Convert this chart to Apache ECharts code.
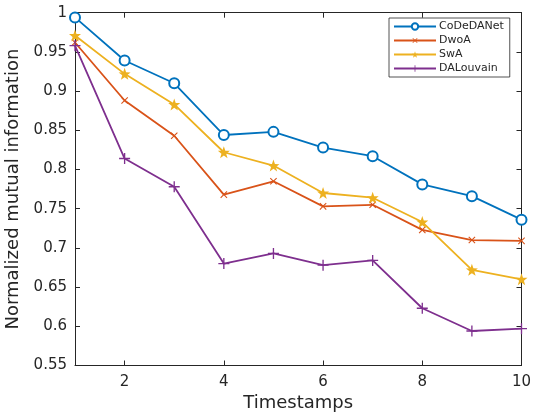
<!DOCTYPE html>
<html>
<head>
<meta charset="utf-8">
<script src="https://cdn.jsdelivr.net/npm/echarts@6/dist/echarts.min.js"></script>
<style>
  html, body { margin: 0; padding: 0; background: #fff; }
  #chart { width: 536px; height: 419px; }
</style>
</head>
<body>
<div id="chart"></div>
<script>
// Timestamps along the x axis
const timestamps = [1, 2, 3, 4, 5, 6, 7, 8, 9, 10];
const xTicks = [2, 4, 6, 8, 10];

// Normalized mutual information per method
const codedanet = [0.994, 0.939, 0.910, 0.844, 0.848, 0.828, 0.817, 0.781, 0.766, 0.736];
const dwoa      = [0.962, 0.888, 0.843, 0.768, 0.785, 0.753, 0.755, 0.723, 0.710, 0.709];
const swa       = [0.971, 0.922, 0.883, 0.822, 0.805, 0.770, 0.764, 0.733, 0.672, 0.660];
const dalouvain = [0.958, 0.814, 0.778, 0.680, 0.693, 0.678, 0.684, 0.623, 0.594, 0.597];

const axisColor = '#262626';
const font = 'DejaVu Sans';

const plusPath = 'path://M-0.6,-5 L0.6,-5 L0.6,-0.6 L5,-0.6 L5,0.6 L0.6,0.6 L0.6,5 L-0.6,5 L-0.6,0.6 L-5,0.6 L-5,-0.6 L-0.6,-0.6 Z';
const starPath = 'path://M0,-5 L1.18,-1.62 L4.76,-1.55 L1.9,0.62 L2.94,4.05 L0,2 L-2.94,4.05 L-1.9,0.62 L-4.76,-1.55 L-1.18,-1.62 Z';

function pairs(vals) {
  return timestamps.map((t, i) => [t, vals[i]]);
}

function lineSeries(name, vals, color, symbol, size, rotate, hollow) {
  return {
    name: name,
    type: 'line',
    data: pairs(vals),
    symbol: symbol,
    symbolSize: size,
    symbolRotate: rotate,
    showAllSymbol: true,
    lineStyle: { color: color, width: 1.8 },
    itemStyle: hollow
      ? { color: color, borderColor: color, borderWidth: 1.3 }
      : { color: color, borderWidth: 0 },
    emphasis: { disabled: true },
    z: 3
  };
}

const chart = echarts.init(document.getElementById('chart'), null, { renderer: 'canvas' });

chart.setOption({
  animation: false,
  backgroundColor: '#fff',
  textStyle: { fontFamily: font },
  grid: { left: 75, right: 14.5, top: 12.7, bottom: 53.5, containLabel: false, outerBoundsMode: 'none' },
  legend: {
    show: true,
    orient: 'vertical',
    left: 389,
    top: 18,
    padding: [3, 6, 3, 4],
    itemGap: 3,
    itemWidth: 42,
    itemHeight: 8,
    borderColor: axisColor,
    borderWidth: 0.8,
    backgroundColor: '#fff',
    textStyle: { fontFamily: font, fontSize: 11, color: axisColor, padding: [0, 0, 0, -2] },
    data: ['CoDeDANet', 'DwoA', 'SwA', 'DALouvain']
  },
  xAxis: [
    {
      type: 'value', min: 1, max: 10, position: 'bottom',
      name: 'Timestamps', nameLocation: 'middle', nameGap: 29,
      nameTextStyle: { fontFamily: font, fontSize: 18, color: axisColor },
      axisLine: { show: true, onZero: false, lineStyle: { color: axisColor, width: 1 } },
      axisTick: { show: true, inside: true, length: 5, customValues: xTicks, lineStyle: { color: axisColor } },
      axisLabel: { show: true, customValues: xTicks, fontFamily: font, fontSize: 15, color: axisColor, margin: 9 },
      splitLine: { show: false }
    },
    {
      type: 'value', min: 1, max: 10, position: 'top',
      axisLine: { show: true, onZero: false, lineStyle: { color: axisColor, width: 1 } },
      axisTick: { show: true, inside: true, length: 5, customValues: xTicks, lineStyle: { color: axisColor } },
      axisLabel: { show: false },
      splitLine: { show: false }
    }
  ],
  yAxis: [
    {
      type: 'value', min: 0.55, max: 1, interval: 0.05, position: 'left',
      name: 'Normalized mutual information', nameLocation: 'middle', nameGap: 48,
      nameTextStyle: { fontFamily: font, fontSize: 18, color: axisColor },
      axisLine: { show: true, onZero: false, lineStyle: { color: axisColor, width: 1 } },
      axisTick: { show: true, inside: true, length: 5, lineStyle: { color: axisColor } },
      axisLabel: {
        fontFamily: font, fontSize: 15, color: axisColor, margin: 8,
        formatter: v => String(parseFloat(v.toFixed(2)))
      },
      splitLine: { show: false }
    },
    {
      type: 'value', min: 0.55, max: 1, interval: 0.05, position: 'right',
      axisLine: { show: true, onZero: false, lineStyle: { color: axisColor, width: 1 } },
      axisTick: { show: true, inside: true, length: 5, lineStyle: { color: axisColor } },
      axisLabel: { show: false },
      splitLine: { show: false }
    }
  ],
  series: [
    lineSeries('CoDeDANet', codedanet, '#0072BD', 'emptyCircle', 10, 0, true),
    lineSeries('DwoA', dwoa, '#D95319', plusPath, 9, 45, false),
    lineSeries('SwA', swa, '#EDB120', starPath, 12, 0, false),
    lineSeries('DALouvain', dalouvain, '#7E2F8E', plusPath, 11, 0, false)
  ]
});
</script>
</body>
</html>
